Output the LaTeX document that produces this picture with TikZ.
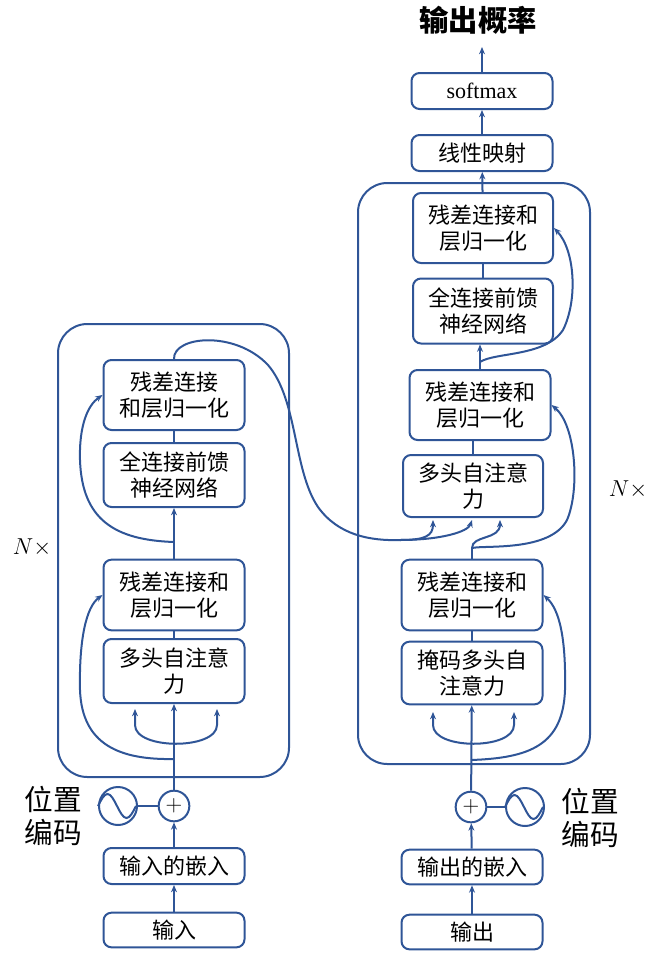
\documentclass[tikz,border=0pt]{standalone}
\usepackage{fontspec}
\setmainfont{Liberation Serif}
\newfontfamily\cjk{Noto Sans CJK SC}
\usepackage{tikz}
\usetikzlibrary{arrows.meta}
\definecolor{lineblue}{RGB}{47,85,151}
\tikzstyle{block} = [rectangle, rounded corners=6pt, minimum width=105.75pt, minimum height=27pt, text centered, align=center, draw=lineblue, line width=1.5pt, fill=white, inner sep=2pt, font=\cjk\fontsize{16.5}{19.5}\selectfont]
\tikzstyle{block_2} = [block, minimum height=52.5pt]
\tikzstyle{ring} = [circle, draw=lineblue, line width=1.5pt, fill=white, inner sep=0pt]
\tikzstyle{line} = [draw=lineblue, line width=1.5pt]
\tikzstyle{arrow} = [line, ->, >={Stealth[length=5.5pt,width=4.5pt]}]

\begin{document}
\begin{tikzpicture}[x=0.75pt, y=-0.75pt]
    \useasboundingbox (0,0) rectangle (651,960);
    \draw [line, rounded corners=22pt] (58,324) rectangle (289,777);
    \draw [line, rounded corners=22pt] (358,183) rectangle (590,764);

    \node (in) [block, minimum height=26pt] at (174,930) {输入};
    \node (inemb) [block] at (174,866) {输入的嵌入};
    \node (plusL) [ring, minimum size=23pt, font=\fontsize{16}{16}\selectfont] at (174,806) {$+$};
    \node (sinL) [ring, minimum size=28.5pt] at (118,806) {};
    \node (posL) [align=left, font=\cjk\fontsize{21.5}{24.75}\selectfont] at (53,816) {位置\\编码};
    \node (encattn) [block_2, minimum height=48pt] at (174,671) {多头自注意\\力};
    \node (encadd1) [block_2, minimum height=53pt] at (174,595) {残差连接和\\层归一化};
    \node (encffn) [block_2, minimum height=48pt] at (174,475) {全连接前馈\\神经网络};
    \node (encadd2) [block_2] at (174,395) {残差连接\\和层归一化};
    \node (nl) [font=\fontsize{17}{20}\selectfont] at (32,548) {$N\times$};

    \node (out) [block, minimum height=26pt] at (472,932) {输出};
    \node (outemb) [block, minimum height=26pt] at (472,867) {输出的嵌入};
    \node (plusR) [ring, minimum size=23pt, font=\fontsize{16}{16}\selectfont] at (471,807) {$+$};
    \node (sinR) [ring, minimum size=28.5pt] at (525,807) {};
    \node (posR) [align=left, font=\cjk\fontsize{21.5}{24.75}\selectfont] at (590,818) {位置\\编码};
    \node (decmask) [block_2, minimum height=47pt] at (472,673) {掩码多头自\\注意力};
    \node (decadd1) [block_2, minimum height=53pt] at (472,595) {残差连接和\\层归一化};
    \node (deccross) [block_2, minimum height=46.5pt, minimum width=105pt] at (473,486) {多头自注意\\力};
    \node (decadd2) [block_2] at (480,405) {残差连接和\\层归一化};
    \node (decffn) [block_2, minimum height=48.75pt, minimum width=105pt] at (483,311) {全连接前馈\\神经网络};
    \node (decadd3) [block_2, minimum width=105pt] at (483,228) {残差连接和\\层归一化};
    \node (linear) [block] at (482,153) {线性映射};
    \node (softmax) [block, font=\fontsize{16.5}{19.5}\selectfont] at (482,91) {softmax};
    \node (prob) [font=\cjk\bfseries\fontsize{22}{26}\selectfont] at (478,20) {输出概率};
    \node (nr) [font=\fontsize{17}{20}\selectfont] at (628,490) {$N\times$};

    \coordinate (encsplit) at (174,759);
    \coordinate (encq) at (135,709);
    \coordinate (enck) at (217,709);
    \coordinate (encres) at (174,542);
    \coordinate (xsplit) at (400,540);
    \coordinate (crossq) at (433,520);
    \coordinate (crossk) at (472,520);
    \coordinate (crossv) at (500,520);
    \coordinate (decsplit) at (471,760);
    \coordinate (decq) at (433,712);
    \coordinate (deck) at (514,712);
    \coordinate (decres) at (472,548);
    \coordinate (decres2) at (480,362);
    \coordinate (probin) at (482,47);

    \draw [line] (sinL.west) sin ++(9.5,-12) cos ++(9.5,12) sin ++(9.5,12) cos ++(9.5,-12);
    \draw [line] (sinR.west) sin ++(9.5,-12) cos ++(9.5,12) sin ++(9.5,12) cos ++(9.5,-12);

    \draw [arrow] (in) -- (inemb);
    \draw [arrow] (inemb) -- (plusL);
    \draw [line] (sinL) -- (plusL);
    \draw [arrow] (plusL) -- (encattn);
    \draw [arrow, <->] (encq) -- ++(0,16) .. controls (135,750) and (217,750) .. (217,725) -- (enck);
    \draw [arrow] (encsplit) .. controls (120,760) and (82,745) .. (80,690) .. controls (79,640) and (86,607) .. (encadd1.west);
    \draw [line] (encattn) -- (encadd1);
    \draw [arrow] (encadd1) -- (encffn);
    \draw [line] (encffn) -- (encadd2);
    \draw [arrow] (encres) .. controls (115,540) and (82,520) .. (80,460) .. controls (79,425) and (88,405) .. (encadd2.west);
    \draw [arrow] (encadd2.north) .. controls (173,336) and (235,330) .. (268,365) .. controls (298,400) and (293,470) .. (318,507) .. controls (338,535) and (370,541) .. (xsplit) .. controls (425,540) and (433,536) .. (crossq);
    \draw [arrow] (xsplit) .. controls (440,540) and (468,532) .. (crossk);

    \draw [arrow] (out) -- (outemb);
    \draw [arrow] (outemb) -- (plusR);
    \draw [line] (plusR) -- (sinR);
    \draw [arrow] (plusR) -- (decmask);
    \draw [arrow, <->] (decq) -- ++(0,13) .. controls (433,750) and (514,750) .. (514,725) -- (deck);
    \draw [arrow] (decsplit) .. controls (530,758) and (563,745) .. (565,690) .. controls (566,640) and (560,610) .. (decadd1.east);
    \draw [line] (decmask) -- (decadd1);
    \draw [line] (decadd1.north) -- (decres);
    \draw [arrow] (decres) .. controls (472,535) and (500,540) .. (crossv);
    \draw [arrow] (decres) .. controls (485,545) and (550,552) .. (567,520) .. controls (580,490) and (576,425) .. (decadd2.east);
    \draw [line] (deccross.north) -- (deccross.north |- decadd2.south);
    \draw [arrow] (decadd2.north) -- (decadd2.north |- decffn.south);
    \draw [arrow] (decres2) .. controls (495,352) and (545,357) .. (563,330) .. controls (578,300) and (575,250) .. (decadd3.east);
    \draw [line] (decffn) -- (decadd3);
    \draw [arrow] (decadd3) -- (linear);
    \draw [arrow] (linear) -- (softmax);
    \draw [arrow] (softmax) -- (probin);
\end{tikzpicture}
\end{document}
